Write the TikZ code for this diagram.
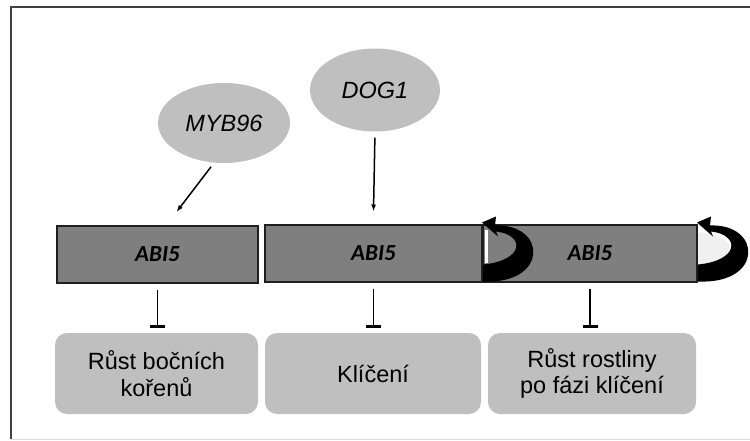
\documentclass[tikz,border=0pt]{standalone}
\usepackage{fontspec}
\setmainfont{Liberation Sans}
\newfontfamily\genefont{Carlito}
\usetikzlibrary{shapes.geometric,arrows.meta,calc}

\definecolor{framegrey}{HTML}{404040}
\definecolor{genegrey}{HTML}{7F7F7F}
\definecolor{lightfill}{HTML}{BFBFBF}

\tikzset{
  gene/.style={draw=black!88, line width=2pt, fill=genegrey, minimum height=57pt, inner sep=0pt,
    font=\genefont\fontsize{23}{27}\selectfont\bfseries\itshape},
  regulator/.style={ellipse, fill=lightfill, inner sep=0pt, font=\fontsize{23.5}{27}\selectfont\itshape},
  process/.style={fill=lightfill, rounded corners=12pt, minimum height=81pt, inner sep=0pt, align=center,
    font=\fontsize{23.5}{26.5}\selectfont},
  act/.style={line width=1.5pt, -{Latex[length=7pt,width=5pt]}},
  inhibit/.style={line width=1.5pt, -{Bar[width=15pt,line width=3pt]}},
  pics/selfloop/.style={code={
    \fill[fill=#1] (0,-50) .. controls (42,-48) and (42,-22) .. (0,-18) -- cycle;
    \fill[black] (0,-1) .. controls (66,2) and (64,-59) .. (12,-57) -- (13,-66) -- (-1,-60) -- (15,-46)
      -- (13,-51) .. controls (42,-48) and (42,-22) .. (0,-18) -- cycle;
  }}
}

\begin{document}
\begin{tikzpicture}[x=1pt, y=-1pt]
    \useasboundingbox (0,0) rectangle (750,441);
    % frame
    \draw[framegrey, line width=2pt] (750,7) -- (11,7) -- (11,439);
    \draw[gray!30, line width=1pt] (11,439) -- (750,439);

    % regulators
    \node[regulator, minimum width=132pt, minimum height=80pt] (myb) at (224,123) {MYB96};
    \node[regulator, minimum width=130pt, minimum height=83pt] (dog) at (375,90) {DOG1};

    % ABI5 boxes
    \node[gene, minimum width=201pt] (abiA) at (157.5,254.5) {ABI5};
    \node[gene, minimum width=217pt] (abiB) at (373.5,253) {ABI5};
    \node[gene, minimum width=214pt] (abiC) at (590,253) {ABI5};

    % processes
    \node[process, minimum width=203pt] (root) at (156.5,373.5) {Růst bočních\\kořenů};
    \node[process, minimum width=216pt] (germ) at (373,373.5) {Klíčení};
    \node[process, minimum width=208pt] (growth) at (592,373.5) {Růst rostliny\\po fázi klíčení};

    % activation
    \coordinate (mybtip) at ($(abiA.north)+(19,-13)$);
    \coordinate (dogtip) at ($(abiB.north)+(0,-12)$);
    \draw[act, shorten <=5pt] (myb.256) -- (mybtip);
    \draw[act, shorten <=6pt] (dog.south) -- (dogtip);

    % inhibition
    \draw[inhibit, shorten <=6pt, shorten >=5pt] (abiA.south) -- (abiA.south |- root.north);
    \draw[inhibit, shorten <=6pt, shorten >=5pt] (abiB.south) -- (abiB.south |- germ.north);
    \draw[inhibit, shorten <=6pt, shorten >=5pt] (abiC.south) -- (abiC.south |- growth.north);

    % self loops
    \fill[white] ($(abiB.south east)+(2,-20)$) rectangle ($(abiB.south east)+(5,-53)$);
    \pic at (abiB.south east) {selfloop=none};
    \pic at (abiC.south east) {selfloop=gray!12};
\end{tikzpicture}
\end{document}
